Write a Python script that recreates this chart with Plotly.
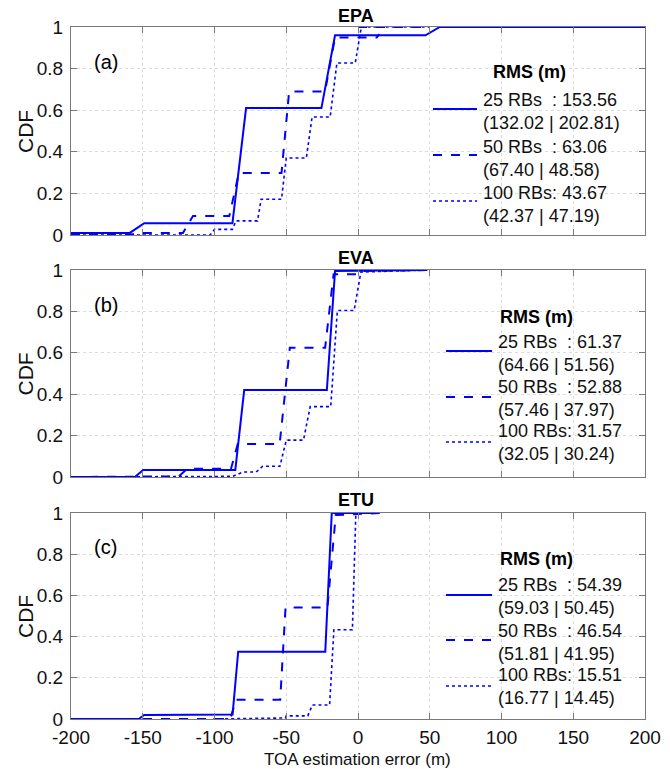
import plotly.graph_objects as go

# ---------------- data ----------------
panel_titles = ["EPA", "EVA", "ETU"]
panel_labels = ["(a)", "(b)", "(c)"]
series_names = ["25 RBs\u00a0\u00a0: ", "50 RBs\u00a0\u00a0: ", "100 RBs: "]

# Panel (a) EPA
a25_x = [-200, -159, -149, -87.5, -78, -25.5, -16, 47, 57, 200]
a25_y = [0.01, 0.01, 0.057, 0.057, 0.61, 0.61, 0.96, 0.96, 1.0, 1.0]
a50_x = [-200, -160, -152, -122, -115, -89.7, -83, -53.3, -48, -23, -16, 13, 15, None, 0, 50]
a50_y = [0, 0, 0.01, 0.01, 0.091, 0.091, 0.298, 0.298, 0.69, 0.69, 0.95, 0.95, 0.965, None, 1.0, 1.0]
a100_x = [-200, -103, -100, -87.5, -85, -70, -67.5, -53.3, -50, -36, -32, -19.4, -14.7, -1.9, 2.3, 50]
a100_y = [0, 0, 0.027, 0.027, 0.068, 0.068, 0.172, 0.172, 0.37, 0.37, 0.567, 0.567, 0.827, 0.827, 1.0, 1.0]

# Panel (b) EVA
b25_x = [-200, -155.5, -149.7, -85.5, -79.3, -21.7, -16, 48.4]
b25_y = [0, 0, 0.034, 0.034, 0.42, 0.42, 0.995, 1.0]
b50_x = [-200, -160, -125, -119, -88.5, -83.8, -54.6, -47.5, -22.9, -17, 0.5, 3, 48.4]
b50_y = [0, 0, 0.003, 0.04, 0.04, 0.16, 0.16, 0.625, 0.625, 0.98, 0.98, 0.995, 1.0]
b100_x = [-200, -87.4, -80, -71, -66.4, -54.4, -50, -38, -33.3, -19, -14.4, -2.7, 2, 47.6]
b100_y = [0, 0.003, 0.024, 0.024, 0.052, 0.052, 0.178, 0.178, 0.34, 0.34, 0.804, 0.804, 0.99, 1.0]

# Panel (c) ETU
c25_x = [-200, -152.8, -149, -87.4, -83.5, -22.8, -18.3, 15]
c25_y = [0, 0, 0.02, 0.022, 0.327, 0.327, 1.0, 1.0]
c50_x = [-200, -89, -85, -54.2, -50.5, -21.3, -15.5, 15]
c50_y = [0, 0, 0.094, 0.094, 0.541, 0.541, 0.99, 1.0]
c100_x = [-100.9, -50.5, -50, -35, -31.8, -19.8, -16.8, -3.9, -1.5, 15]
c100_y = [0, 0.005, 0.015, 0.015, 0.068, 0.068, 0.433, 0.433, 1.0, 1.0]

# RMS legend values: total, (first | second)
rms_a = ["153.56", "63.06", "43.67"]
rms_a_parts = ["(132.02 | 202.81)", "(67.40 | 48.58)", "(42.37 | 47.19)"]
rms_b = ["61.37", "52.88", "31.57"]
rms_b_parts = ["(64.66 | 51.56)", "(57.46 | 37.97)", "(32.05 | 30.24)"]
rms_c = ["54.39", "46.54", "15.51"]
rms_c_parts = ["(59.03 | 50.45)", "(51.81 | 41.95)", "(16.77 | 14.45)"]

x_ticks = [-200, -150, -100, -50, 0, 50, 100, 150, 200]
y_ticks = [0, 0.2, 0.4, 0.6, 0.8, 1.0]
y_tick_text = ["0", "0.2", "0.4", "0.6", "0.8", "1"]

# ---------------- layout helpers ----------------
W, H = 670, 769
def px(x):
    return x / W
def py(y):
    return 1 - y / H

panels = [
    dict(data=[(a25_x, a25_y), (a50_x, a50_y), (a100_x, a100_y)], rms=rms_a, parts=rms_a_parts,
         top=27, bot=235, title_y=16, label_y=62, rms_y=72, rms_x=529, txt_x=481, line_x=(433, 477),
         entry_y=[112, 158, 204.5], line_y=[109, 155, 201]),
    dict(data=[(b25_x, b25_y), (b50_x, b50_y), (b100_x, b100_y)], rms=rms_b, parts=rms_b_parts,
         top=270, bot=477, title_y=258, label_y=305, rms_y=317, rms_x=536, txt_x=496, line_x=(446, 492),
         entry_y=[353, 398.5, 442], line_y=[351, 397, 442]),
    dict(data=[(c25_x, c25_y), (c50_x, c50_y), (c100_x, c100_y)], rms=rms_c, parts=rms_c_parts,
         top=513, bot=719, title_y=500, label_y=547, rms_y=559, rms_x=536, txt_x=496, line_x=(446, 492),
         entry_y=[596.5, 642, 686], line_y=[595, 640, 686]),
]

X0, X1 = 71, 645
BLUE = "#0000ff"
dashes = ["solid", "dash", "dot"]
widths = [2, 2, 1.6]
FONT = "Liberation Sans, Arial, sans-serif"

fig = go.Figure()
annotations = []
shapes = []

for i, p in enumerate(panels):
    xa = "x" if i == 0 else f"x{i+1}"
    ya = "y" if i == 0 else f"y{i+1}"
    for (xs, ys), d, w in zip(p["data"], dashes, widths):
        fig.add_trace(go.Scatter(x=xs, y=ys, mode="lines", xaxis=xa, yaxis=ya,
                                 line=dict(color=BLUE, width=w, dash=d),
                                 showlegend=False, hoverinfo="skip", connectgaps=False))
    xkey = "xaxis" if i == 0 else f"xaxis{i+1}"
    ykey = "yaxis" if i == 0 else f"yaxis{i+1}"
    axis_common = dict(showline=True, linecolor="#7a7a7a", linewidth=1.2, mirror="ticks",
                       ticks="inside", ticklen=6, tickcolor="#7a7a7a", automargin=False,
                       showgrid=True, gridcolor="#dcdcdc", griddash="dot", gridwidth=1,
                       zeroline=False, tickfont=dict(family=FONT, size=19, color="#111"))
    fig.update_layout(**{
        xkey: dict(axis_common, domain=[px(X0), px(X1)], range=[-200, 200], tickvals=x_ticks,
                   ticktext=[str(t) for t in x_ticks], showticklabels=(i == 2),
                   ticklabelstandoff=1, anchor=ya),
        ykey: dict(axis_common, domain=[py(p["bot"]), py(p["top"])], range=[0, 1],
                   tickvals=y_ticks, ticktext=y_tick_text, ticklabelstandoff=3, anchor=xa),
    })
    annotations.append(dict(text=f"<b>{panel_titles[i]}</b>", x=px(356), y=py(p["title_y"]),
                            xref="paper", yref="paper", showarrow=False, xanchor="center",
                            yanchor="middle", font=dict(family=FONT, size=18, color="#000")))
    annotations.append(dict(text=panel_labels[i], x=px(92), y=py(p["label_y"]),
                            xref="paper", yref="paper", showarrow=False, xanchor="left",
                            yanchor="middle", font=dict(family=FONT, size=20, color="#000")))
    annotations.append(dict(text="CDF", x=px(25), y=py((p["top"] + p["bot"]) / 2),
                            xref="paper", yref="paper", showarrow=False, textangle=-90,
                            xanchor="center", yanchor="middle",
                            font=dict(family=FONT, size=21, color="#111")))
    annotations.append(dict(text="<b>RMS (m)</b>", x=px(p["rms_x"]), y=py(p["rms_y"]),
                            xref="paper", yref="paper", showarrow=False, xanchor="center",
                            yanchor="middle", font=dict(family=FONT, size=18, color="#000")))
    for k in range(3):
        annotations.append(dict(text=series_names[k] + p["rms"][k] + "<br>" + p["parts"][k],
                                x=px(p["txt_x"]), y=py(p["entry_y"][k]), xref="paper", yref="paper",
                                showarrow=False, xanchor="left", yanchor="middle", align="left",
                                font=dict(family=FONT, size=18, color="#111")))
        shapes.append(dict(type="line", xref="paper", yref="paper",
                           x0=px(p["line_x"][0]), x1=px(p["line_x"][1]),
                           y0=py(p["line_y"][k]), y1=py(p["line_y"][k]),
                           line=dict(color=BLUE, width=widths[k], dash=dashes[k])))

annotations.append(dict(text="TOA estimation error (m)", x=px(357), y=py(759), xref="paper", yref="paper",
                        showarrow=False, xanchor="center", yanchor="middle",
                        font=dict(family=FONT, size=17, color="#111")))

fig.update_layout(width=W, height=H, margin=dict(l=0, r=0, t=0, b=0, autoexpand=False),
                  paper_bgcolor="white", plot_bgcolor="white",
                  annotations=annotations, shapes=shapes, showlegend=False)

fig.write_html("out.html")
